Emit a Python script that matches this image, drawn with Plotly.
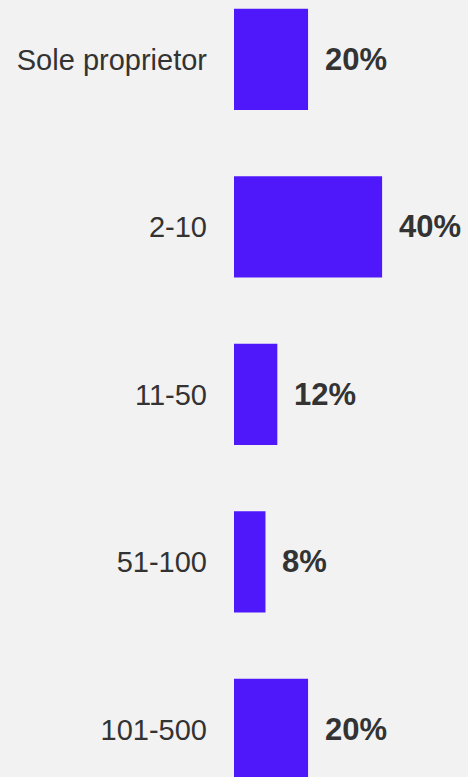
import plotly.graph_objects as go

categories = ["Sole proprietor", "2-10", "11-50", "51-100", "101-500"]
values = [20, 40, 11.7, 8.5, 20]
value_labels = ["20%", "40%", "12%", "8%", "20%"]

BAR_COLOR = "#4f18fb"
TEXT_COLOR = "#333333"
BG = "#f2f2f2"
FONT = "Arial, 'Liberation Sans', sans-serif"

fig = go.Figure()
fig.add_trace(go.Bar(
    x=values,
    y=categories,
    orientation="h",
    width=0.605,
    marker=dict(color=BAR_COLOR, line=dict(width=0)),
    hoverinfo="skip",
))

for v, c, lab in zip(values, categories, value_labels):
    fig.add_annotation(
        x=v, y=c, text="<b>" + lab + "</b>",
        xanchor="left", yanchor="middle",
        xshift=15, showarrow=False,
        font=dict(family=FONT, size=31, color=TEXT_COLOR),
    )

fig.update_layout(
    width=468, height=777,
    margin=dict(l=234, r=0, t=0, b=0),
    paper_bgcolor=BG, plot_bgcolor=BG,
    showlegend=False,
    font=dict(family=FONT, color=TEXT_COLOR),
    xaxis=dict(range=[0, 63.2], visible=False, fixedrange=True),
    yaxis=dict(
        type="category",
        categoryorder="array", categoryarray=categories,
        range=[4.284, -0.3546],
        showgrid=False, zeroline=False, showline=False,
        ticks="", ticklabelstandoff=26,
        tickfont=dict(family=FONT, size=29, color=TEXT_COLOR),
        fixedrange=True,
    ),
)

fig.write_html(
    "out.html",
    config={"displayModeBar": False},
    post_script="document.body.style.margin='0';document.body.style.background='#f2f2f2';",
)
